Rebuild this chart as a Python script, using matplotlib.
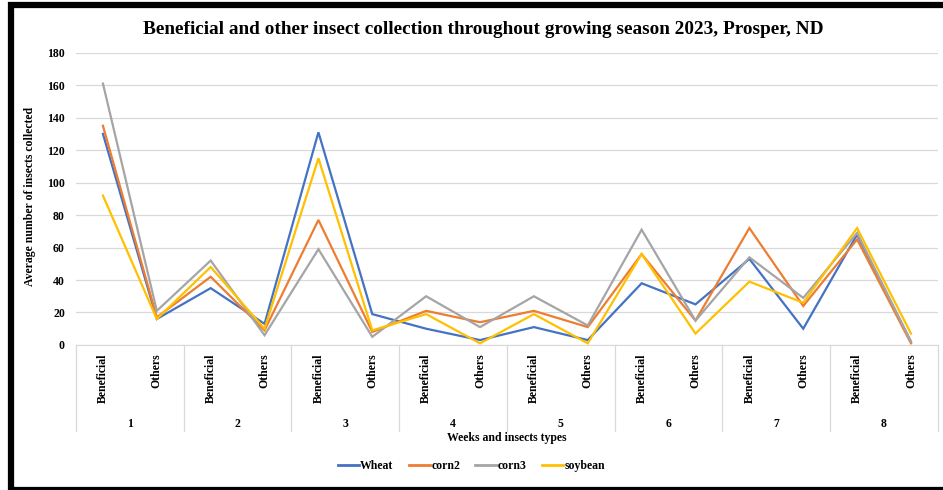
import matplotlib
matplotlib.use("Agg")
import matplotlib.pyplot as plt
from matplotlib.lines import Line2D
from matplotlib.patches import Rectangle

weeks = ["1", "2", "3", "4", "5", "6", "7", "8"]
types = ["Beneficial", "Others"]
wheat = [130, 16, 35, 13, 131, 19, 10, 3, 11, 3, 38, 25, 53, 10, 68, 2]
corn2 = [135, 17, 42, 9, 77, 8, 21, 14, 21, 11, 56, 15, 72, 24, 65, 1]
corn3 = [161, 21, 52, 6, 59, 5, 30, 11, 30, 12, 71, 15, 54, 29, 69, 2]
soybean = [92, 16, 48, 10, 115, 9, 19, 1, 19, 1, 56, 7, 39, 26, 72, 7]
series_names = ["Wheat", "corn2", "corn3", "soybean"]
colors = ["#4472C4", "#ED7D31", "#A5A5A5", "#FFC000"]

serif = ["Liberation Serif", "DejaVu Serif"]
plt.rcParams['font.family'] = serif

fig = plt.figure(figsize=(9.43, 4.9), dpi=100)
ax = fig.add_axes([0.0806, 0.296, 0.914, 0.5964])

n = len(weeks) * len(types)
x = list(range(n))
for vals, c in zip([wheat, corn2, corn3, soybean], colors):
    ax.plot(x, vals, color=c, lw=1.6, solid_joinstyle='miter')

ax.set_xlim(-0.5, n - 0.5)
ax.set_ylim(0, 180)
ax.set_yticks(range(0, 181, 20))
ax.tick_params(axis='y', length=0, labelsize=8.5, pad=8)
for lbl in ax.get_yticklabels():
    lbl.set_fontweight('bold')
ax.grid(axis='y', color='#D9D9D9', lw=0.9)
ax.set_axisbelow(True)
for s in ['top', 'right', 'left']:
    ax.spines[s].set_visible(False)
ax.spines['bottom'].set_color('#D9D9D9')
ax.set_xticks([])

# category labels
trans = ax.get_xaxis_transform()
for i in range(n):
    ax.text(i, -0.03, types[i % 2], rotation=90, ha='center', va='top',
            fontsize=8.5, fontweight='bold', transform=trans)
for w, wk in enumerate(weeks):
    ax.text(2 * w + 0.5, -0.27, wk, ha='center', va='center', fontsize=8.5,
            fontweight='bold', transform=trans)
for b in range(len(weeks) + 1):
    ax.add_line(Line2D([b * 2 - 0.5] * 2, [0, -0.295], transform=trans,
                       color='#D9D9D9', lw=0.9, clip_on=False))

ax.text(0.5, -0.32, "Weeks and insects types", ha='center', va='center',
        fontsize=8.5, fontweight='bold', transform=ax.transAxes)
fig.text(0.032, 0.6, "Average number of insects collected", rotation=90,
         ha='center', va='center', fontsize=8.5, fontweight='bold')

fig.text(0.512, 0.94, "Beneficial and other insect collection throughout growing season 2023, Prosper, ND",
         ha='center', va='center', fontsize=13.9, fontweight='bold')

handles = [Line2D([], [], color=c, lw=2) for c in colors]
leg = fig.legend(handles, series_names, loc='center', bbox_to_anchor=(0.5, 0.049),
                 ncol=4, frameon=False, handlelength=1.8, handletextpad=0.1,
                 columnspacing=1.3, prop={'family': serif, 'weight': 'bold', 'size': 8.5})

# outer frame
fig.patches.append(Rectangle((0.0115, 0.0), 1.2, 0.99, transform=fig.transFigure,
                             fill=False, edgecolor='black', lw=4.5))

fig.savefig("out.png", dpi=100)
